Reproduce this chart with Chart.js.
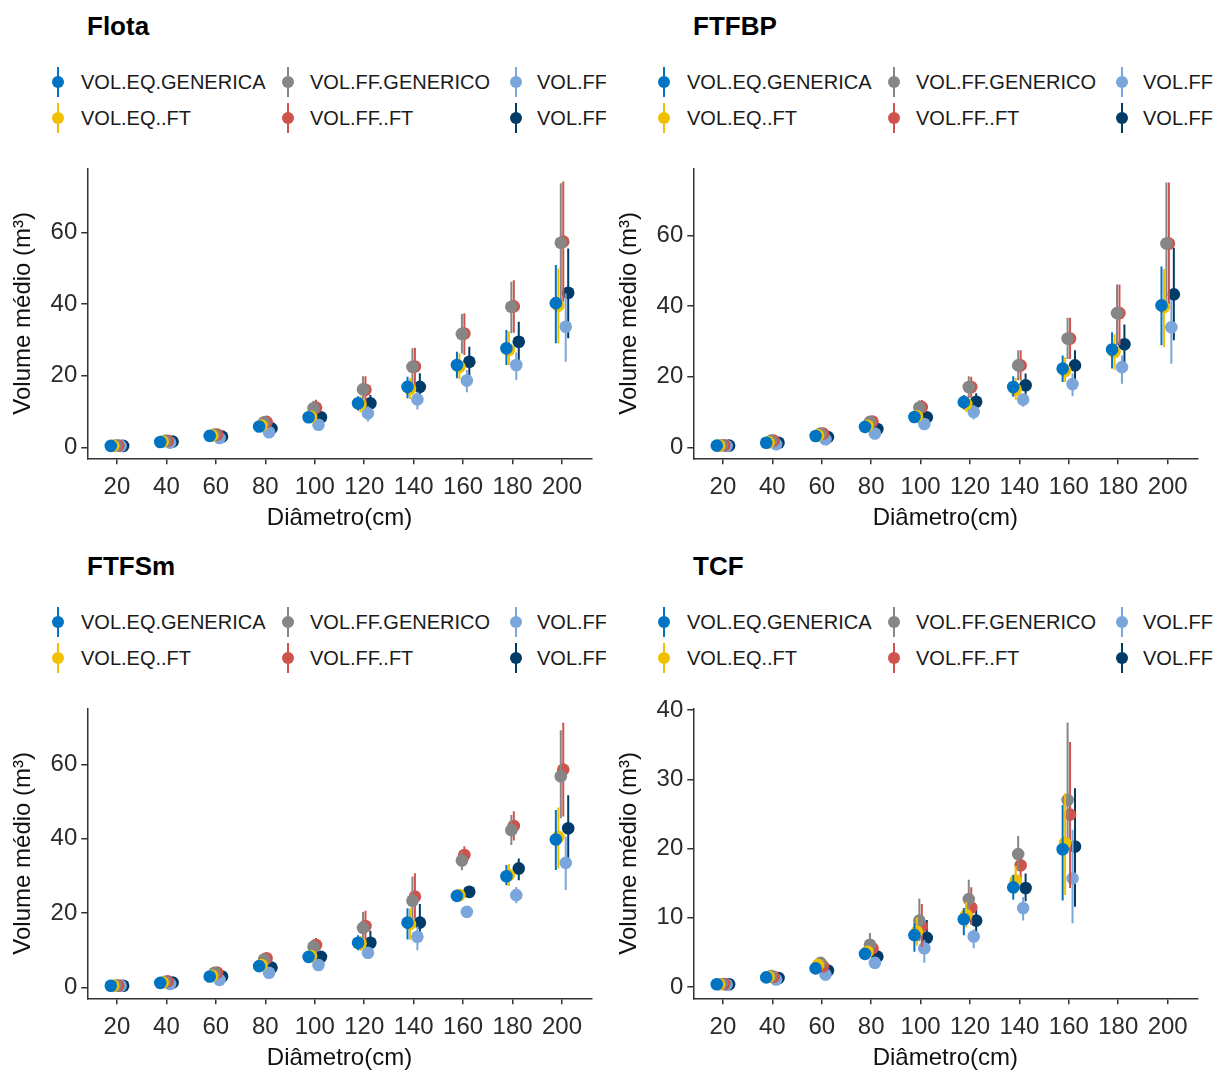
<!DOCTYPE html>
<html><head><meta charset="utf-8">
<script src="https://cdn.jsdelivr.net/npm/chart.js@4.4.1/dist/chart.umd.min.js"></script>
<style>
body{margin:0;background:#fff;}
#root{position:relative;width:1224px;height:1070px;overflow:hidden;background:#fff;font-family:"Liberation Sans",Arial,sans-serif;}
.panel{position:absolute;overflow:hidden;height:540px;}
.ptitle{position:absolute;font-size:26px;font-weight:bold;color:#000;line-height:28px;white-space:nowrap;}
.bar{position:absolute;width:2px;height:30px;}
.dot{position:absolute;width:12px;height:12px;border-radius:50%;}
.txt{position:absolute;font-size:20px;line-height:20px;white-space:nowrap;color:#1a1a1a;}
canvas{position:absolute;}
</style>
</head><body><div id="root"></div>
<script>
// ---------- categories / labels ----------
const diameterLabels = ['20','40','60','80','100','120','140','160','180','200'];
const seriesNames = ['VOL.EQ.GENERICA','VOL.EQ..FT','VOL.FF.GENERICO','VOL.FF..FT','VOL.FF','VOL.FF'];
const seriesColors = ['#0073C2','#EFC000','#868686','#CD534C','#7AA6DC','#003C67'];
const panelTitles = ['Flota','FTFBP','FTFSm','TCF'];
const yTicksFlota = [0,20,40,60];
const yTicksFTFBP = [0,20,40,60];
const yTicksFTFSm = [0,20,40,60];
const yTicksTCF = [0,10,20,30,40];

// ---------- Flota ----------
const flota_eqGen    = [0.4,1.5,3.2,5.8,8.4,12.3,16.9,23.0,27.7,40.3];
const flota_eqGen_lo = [0.2,1.1,2.6,4.9,7.0,10.3,13.7,19.3,23.0,29.1];
const flota_eqGen_hi = [0.6,1.9,3.8,6.7,9.8,14.3,19.7,26.7,32.8,51.0];
const flota_eqFT     = [0.4,1.6,3.3,6.1,8.5,12.0,16.3,22.5,27.2,39.6];
const flota_eqFT_lo  = [0.2,1.2,2.7,5.1,7.0,9.7,13.5,19.0,23.0,29.1];
const flota_eqFT_hi  = [0.6,2.0,3.9,7.1,10.0,14.3,19.3,26.2,32.4,50.0];
const flota_ffGen    = [0.5,1.8,3.6,7.0,10.9,16.2,22.5,31.7,39.3,57.2];
const flota_ffGen_lo = [0.3,1.4,3.0,5.9,8.9,12.5,17.3,26.2,31.9,40.7];
const flota_ffGen_hi = [0.7,2.2,4.2,8.1,13.0,19.9,27.7,37.3,46.3,73.8];
const flota_ffFT     = [0.5,1.8,3.6,7.1,11.1,16.1,22.6,31.8,39.4,57.5];
const flota_ffFT_lo  = [0.3,1.4,3.0,6.0,9.0,12.3,17.0,25.8,32.0,40.7];
const flota_ffFT_hi  = [0.7,2.2,4.2,8.3,13.3,19.9,27.8,37.5,46.7,74.3];
const flota_ffA      = [0.4,1.3,2.6,4.2,6.3,9.5,13.4,18.7,23.0,33.7];
const flota_ffA_lo   = [0.2,0.9,2.0,3.3,5.0,7.2,10.6,15.4,18.8,23.9];
const flota_ffA_hi   = [0.6,1.7,3.2,5.1,7.6,11.5,15.5,21.6,26.5,43.0];
const flota_ffB      = [0.4,1.6,3.0,5.3,8.4,12.3,16.9,23.9,29.5,43.2];
const flota_ffB_lo   = [0.2,1.2,2.5,4.4,7.0,10.0,13.4,19.7,24.4,30.5];
const flota_ffB_hi   = [0.6,2.0,3.5,6.2,9.8,14.6,20.7,28.1,35.1,55.6];

// ---------- FTFBP ----------
const ftfbp_eqGen    = [0.5,1.3,3.2,5.8,8.6,12.8,17.1,22.3,27.7,40.2];
const ftfbp_eqGen_lo = [0.3,0.9,2.6,4.9,7.2,10.8,14.3,18.5,22.3,28.9];
const ftfbp_eqGen_hi = [0.7,1.7,3.8,6.7,10.0,14.8,20.1,26.0,32.6,51.2];
const ftfbp_eqFT     = [0.5,1.4,3.4,6.1,8.8,12.3,16.3,21.7,27.0,39.7];
const ftfbp_eqFT_lo  = [0.3,1.0,2.8,5.1,7.3,10.0,13.5,18.5,22.0,28.4];
const ftfbp_eqFT_hi  = [0.7,1.8,4.0,7.1,10.3,14.6,19.6,25.6,32.0,50.5];
const ftfbp_ffGen    = [0.6,1.9,3.9,7.2,11.3,17.1,23.2,30.8,38.0,57.7];
const ftfbp_ffGen_lo = [0.4,1.5,3.3,6.1,9.3,14.0,19.0,25.0,29.0,40.6];
const ftfbp_ffGen_hi = [0.8,2.3,4.5,8.3,13.3,20.1,27.5,36.7,46.1,75.0];
const ftfbp_ffFT     = [0.6,1.9,3.9,7.3,11.4,17.1,23.2,30.8,38.0,57.7];
const ftfbp_ffFT_lo  = [0.4,1.5,3.3,6.2,9.4,14.0,19.0,25.0,29.0,40.6];
const ftfbp_ffFT_hi  = [0.8,2.3,4.5,8.4,13.4,20.0,27.5,36.7,46.1,75.0];
const ftfbp_ffA      = [0.4,0.9,2.3,3.9,6.6,10.0,13.5,17.9,22.7,34.0];
const ftfbp_ffA_lo   = [0.2,0.6,1.8,3.1,5.3,7.9,11.5,14.5,18.0,23.7];
const ftfbp_ffA_hi   = [0.6,1.2,2.8,4.7,7.9,12.0,15.1,20.9,26.0,41.6];
const ftfbp_ffB      = [0.5,1.3,2.9,5.2,8.5,12.9,17.6,23.2,29.2,43.3];
const ftfbp_ffB_lo   = [0.3,0.9,2.4,4.3,7.1,10.6,14.9,19.0,23.7,30.3];
const ftfbp_ffB_hi   = [0.7,1.7,3.4,6.1,9.9,15.3,20.9,27.5,34.8,56.5];

// ---------- FTFSm ----------
const ftfsm_eqGen    = [0.4,1.2,2.9,5.7,8.2,12.0,17.4,24.6,29.9,39.8];
const ftfsm_eqGen_lo = [0.2,0.8,2.3,4.8,6.8,10.0,12.9,23.6,27.5,31.6];
const ftfsm_eqGen_hi = [0.6,1.6,3.5,6.6,9.6,14.0,21.3,25.6,32.9,47.7];
const ftfsm_eqFT     = [0.4,1.3,3.1,6.0,8.4,11.8,17.0,24.8,30.2,40.5];
const ftfsm_eqFT_lo  = [0.2,0.9,2.5,5.0,7.0,9.8,12.8,23.8,27.3,32.0];
const ftfsm_eqFT_hi  = [0.6,1.7,3.7,7.0,9.8,13.8,21.3,25.8,33.1,48.4];
const ftfsm_ffGen    = [0.5,1.5,3.9,7.5,10.9,16.0,23.3,34.1,42.3,56.8];
const ftfsm_ffGen_lo = [0.3,1.1,3.3,6.4,8.9,11.8,17.9,31.5,38.3,45.5];
const ftfsm_ffGen_hi = [0.7,1.9,4.5,8.6,12.9,20.3,29.8,36.5,46.4,69.2];
const ftfsm_ffFT     = [0.5,1.6,4.0,7.8,11.4,16.5,24.4,35.6,43.4,58.6];
const ftfsm_ffFT_lo  = [0.3,1.2,3.4,6.7,9.5,12.3,18.5,33.2,39.5,46.0];
const ftfsm_ffFT_hi  = [0.7,2.0,4.6,8.9,13.3,20.6,30.7,38.0,47.4,71.2];
const ftfsm_ffA      = [0.4,0.9,2.0,3.9,6.0,9.3,13.6,20.3,24.8,33.5];
const ftfsm_ffA_lo   = [0.2,0.6,1.5,3.1,4.8,7.8,10.0,19.3,22.6,26.2];
const ftfsm_ffA_hi   = [0.6,1.2,2.5,4.7,7.2,10.8,16.4,21.3,27.0,40.5];
const ftfsm_ffB      = [0.4,1.3,2.9,5.3,8.2,12.0,17.4,25.7,32.0,42.8];
const ftfsm_ffB_lo   = [0.2,0.9,2.4,4.4,6.8,9.0,12.9,24.2,28.8,34.7];
const ftfsm_ffB_hi   = [0.6,1.7,3.4,6.2,9.6,15.2,22.4,27.2,34.7,51.7];

// ---------- TCF (no data for 180, 200) ----------
const tcf_eqGen    = [0.4,1.4,2.7,4.8,7.5,9.8,14.4,19.9,null,null];
const tcf_eqGen_lo = [0.3,1.2,2.4,4.1,5.1,7.5,12.6,12.5,null,null];
const tcf_eqGen_hi = [0.5,1.6,3.0,5.5,9.2,11.4,16.2,26.3,null,null];
const tcf_eqFT     = [0.4,1.5,3.2,5.1,8.0,10.4,15.4,20.8,null,null];
const tcf_eqFT_lo  = [0.3,1.3,2.8,4.4,6.0,8.6,13.5,13.3,null,null];
const tcf_eqFT_hi  = [0.5,1.7,3.6,5.8,10.0,12.3,17.5,28.0,null,null];
const tcf_ffGen    = [0.45,1.6,3.5,6.1,9.6,12.7,19.2,27.0,null,null];
const tcf_ffGen_lo = [0.3,1.3,2.9,4.8,6.6,10.2,16.9,20.0,null,null];
const tcf_ffGen_hi = [0.6,1.9,4.2,7.8,12.8,15.5,21.8,38.2,null,null];
const tcf_ffFT     = [0.45,1.5,3.0,5.6,8.8,11.5,17.6,24.9,null,null];
const tcf_ffFT_lo  = [0.3,1.2,2.5,4.5,5.8,9.0,15.5,14.3,null,null];
const tcf_ffFT_hi  = [0.6,1.8,3.5,6.8,12.0,14.4,19.9,35.4,null,null];
const tcf_ffA      = [0.35,1.1,1.8,3.5,5.6,7.3,11.4,15.7,null,null];
const tcf_ffA_lo   = [0.25,0.9,1.5,2.7,3.5,5.6,9.6,9.2,null,null];
const tcf_ffA_hi   = [0.45,1.3,2.1,4.3,6.8,8.3,13.0,22.7,null,null];
const tcf_ffB      = [0.4,1.3,2.4,4.4,7.1,9.6,14.3,20.3,null,null];
const tcf_ffB_lo   = [0.3,1.1,2.1,3.7,4.9,7.6,12.4,11.6,null,null];
const tcf_ffB_hi   = [0.5,1.5,2.7,5.1,9.7,11.4,16.4,28.7,null,null];

// ---------- panel assembly ----------
const FONT = '"Liberation Sans", Arial, sans-serif';
const panels = [
  {title:panelTitles[0], left:0,   top:0,   width:606, padRight:14.3, yMin:-3.07, yMax:78.0, yTicks:yTicksFlota,
   mean:[flota_eqGen,flota_eqFT,flota_ffGen,flota_ffFT,flota_ffA,flota_ffB],
   lo:[flota_eqGen_lo,flota_eqFT_lo,flota_ffGen_lo,flota_ffFT_lo,flota_ffA_lo,flota_ffB_lo],
   hi:[flota_eqGen_hi,flota_eqFT_hi,flota_ffGen_hi,flota_ffFT_hi,flota_ffA_hi,flota_ffB_hi]},
  {title:panelTitles[1], left:606, top:0,   width:618, padRight:26.7, yMin:-3.1, yMax:79.0, yTicks:yTicksFTFBP,
   mean:[ftfbp_eqGen,ftfbp_eqFT,ftfbp_ffGen,ftfbp_ffFT,ftfbp_ffA,ftfbp_ffB],
   lo:[ftfbp_eqGen_lo,ftfbp_eqFT_lo,ftfbp_ffGen_lo,ftfbp_ffFT_lo,ftfbp_ffA_lo,ftfbp_ffB_lo],
   hi:[ftfbp_eqGen_hi,ftfbp_eqFT_hi,ftfbp_ffGen_hi,ftfbp_ffFT_hi,ftfbp_ffA_hi,ftfbp_ffB_hi]},
  {title:panelTitles[2], left:0,   top:540, width:606, padRight:14.3, yMin:-2.96, yMax:75.1, yTicks:yTicksFTFSm,
   mean:[ftfsm_eqGen,ftfsm_eqFT,ftfsm_ffGen,ftfsm_ffFT,ftfsm_ffA,ftfsm_ffB],
   lo:[ftfsm_eqGen_lo,ftfsm_eqFT_lo,ftfsm_ffGen_lo,ftfsm_ffFT_lo,ftfsm_ffA_lo,ftfsm_ffB_lo],
   hi:[ftfsm_eqGen_hi,ftfsm_eqFT_hi,ftfsm_ffGen_hi,ftfsm_ffFT_hi,ftfsm_ffA_hi,ftfsm_ffB_hi]},
  {title:panelTitles[3], left:606, top:540, width:618, padRight:26.7, yMin:-1.62, yMax:40.25, yTicks:yTicksTCF,
   mean:[tcf_eqGen,tcf_eqFT,tcf_ffGen,tcf_ffFT,tcf_ffA,tcf_ffB],
   lo:[tcf_eqGen_lo,tcf_eqFT_lo,tcf_ffGen_lo,tcf_ffFT_lo,tcf_ffA_lo,tcf_ffB_lo],
   hi:[tcf_eqGen_hi,tcf_eqFT_hi,tcf_ffGen_hi,tcf_ffFT_hi,tcf_ffA_hi,tcf_ffB_hi]}
];

const DODGE = 0.05; // dodge step in category units

const errorBarPlugin = {
  id:'errbars',
  beforeDatasetDraw(chart, args){
    const ds = chart.data.datasets[args.index];
    const {ctx, scales:{x, y}, chartArea} = chart;
    ctx.save();
    ctx.beginPath();
    ctx.rect(chartArea.left, chartArea.top, chartArea.right-chartArea.left, chartArea.bottom-chartArea.top);
    ctx.clip();
    ctx.strokeStyle = ds.backgroundColor;
    ctx.lineWidth = 2;
    ds.data.forEach(p => {
      const px = x.getPixelForValue(p.x);
      ctx.beginPath();
      ctx.moveTo(px, y.getPixelForValue(p.lo));
      ctx.lineTo(px, y.getPixelForValue(p.hi));
      ctx.stroke();
    });
    ctx.restore();
  }
};

const root = document.getElementById('root');
const legendCols = [{sx:58, tx:81}, {sx:288, tx:310}, {sx:516, tx:537}];
const legendRows = [82, 118];

panels.forEach(P => {
  const div = document.createElement('div');
  div.className = 'panel';
  div.style.left = P.left+'px'; div.style.top = P.top+'px'; div.style.width = P.width+'px';
  root.appendChild(div);

  const t = document.createElement('div');
  t.className = 'ptitle'; t.textContent = P.title;
  t.style.left = '87px'; t.style.top = '12px';
  div.appendChild(t);

  seriesNames.forEach((name, k) => {
    const col = legendCols[Math.floor(k/2)], cy = legendRows[k%2];
    const bar = document.createElement('div');
    bar.className = 'bar'; bar.style.background = seriesColors[k];
    bar.style.left = (col.sx-1)+'px'; bar.style.top = (cy-15)+'px';
    const dot = document.createElement('div');
    dot.className = 'dot'; dot.style.background = seriesColors[k];
    dot.style.left = (col.sx-6)+'px'; dot.style.top = (cy-6)+'px';
    const tx = document.createElement('div');
    tx.className = 'txt'; tx.textContent = name;
    tx.style.left = col.tx+'px'; tx.style.top = (cy-10)+'px';
    div.appendChild(bar); div.appendChild(dot); div.appendChild(tx);
  });

  const cv = document.createElement('canvas');
  cv.width = P.width; cv.height = 390;
  cv.style.left = '0px'; cv.style.top = '150px';
  div.appendChild(cv);

  const datasets = P.mean.map((arr, k) => ({
    label: seriesNames[k],
    backgroundColor: seriesColors[k],
    borderWidth: 0,
    pointRadius: 6.3,
    pointHoverRadius: 6.3,
    data: arr.map((v, i) => v == null ? null : {x: i + 1 + (k - 2.5) * DODGE, y: v, lo: P.lo[k][i], hi: P.hi[k][i]})
             .filter(d => d !== null)
  }));

  new Chart(cv, {
    type:'scatter',
    data:{datasets},
    plugins:[errorBarPlugin],
    options:{
      responsive:false, animation:false, devicePixelRatio:1,
      events:[],
      layout:{padding:{top:18.3, right:P.padRight, bottom:0, left:0}},
      plugins:{legend:{display:false}, tooltip:{enabled:false}, title:{display:false}},
      scales:{
        x:{
          type:'linear', min:0.4, max:10.6,
          afterBuildTicks: s => { s.ticks = diameterLabels.map((_, i) => ({value:i+1})); },
          afterFit: s => { s.height = 81.7; s.paddingLeft = 0; s.paddingRight = 0; },
          ticks:{autoSkip:false, maxRotation:0, minRotation:0, padding:9, color:'#2b2b2b',
                 font:{family:FONT, size:24}, callback:(v, i) => diameterLabels[i]},
          grid:{drawOnChartArea:false, drawTicks:true, tickLength:6, color:'#333333', lineWidth:1.5},
          border:{display:true, color:'#333333', width:1.5},
          title:{display:true, text:'Diâmetro(cm)', color:'#111', font:{family:FONT, size:24}, padding:{top:0, bottom:7}}
        },
        y:{
          type:'linear', min:P.yMin, max:P.yMax,
          afterBuildTicks: s => { s.ticks = P.yTicks.map(v => ({value:v})); },
          afterFit: s => { s.width = 87.3; s.paddingTop = 0; s.paddingBottom = 0; },
          ticks:{padding:4, color:'#2b2b2b', font:{family:FONT, size:24}},
          grid:{drawOnChartArea:false, drawTicks:true, tickLength:6, color:'#333333', lineWidth:1.5},
          border:{display:true, color:'#333333', width:1.5},
          title:{display:true, text:'Volume médio (m³)', color:'#111', font:{family:FONT, size:24}, padding:{top:9, bottom:0}}
        }
      }
    }
  });
});
</script>
</body></html>
